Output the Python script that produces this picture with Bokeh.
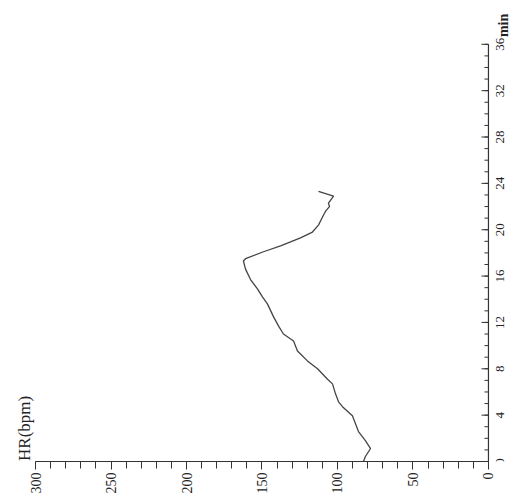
import math
from bokeh.plotting import figure
from bokeh.models import Range1d, FixedTicker
from bokeh.core.properties import value
from bokeh.embed import file_html
from bokeh.resources import INLINE

# Data (time in minutes, heart rate in bpm)
time_min = [0, 0.43, 1.12, 1.8, 2.58, 3.95, 4.73, 5.15, 5.84, 6.7, 7.1, 8.0, 8.68,
            9.54, 10.4, 11.0, 11.7, 12.5, 13.6, 14.2, 14.9, 15.7, 16.6, 17.3, 17.5,
            18.1, 18.6, 19.3, 19.8, 20.4, 21.1, 21.6, 22.0, 22.3, 22.9, 23.3]
hr_bpm = [82.8, 81.5, 78.1, 81.5, 86.1, 90.1, 96.7, 99.3, 101.3, 103.3, 106.6, 113.2, 119.9,
          126.5, 129.1, 135.8, 139.1, 142.4, 146.4, 149.7, 153.0, 157.6, 160.9, 162.3, 160.9,
          149.0, 137.7, 124.5, 116.6, 112.6, 109.9, 107.9, 105.3, 106.0, 102.6, 112.6]

hr_ticks = [0, 50, 100, 150, 200, 250, 300]
hr_minor = list(range(0, 301, 10))
time_ticks = [0, 4, 8, 12, 16, 20, 24, 28, 32, 36]
time_labels = [str(t) for t in time_ticks]
time_minor = list(range(0, 37))

hr_title = "HR(bpm)"
time_title = "min"

FONT = "Liberation Serif"
INK = "#333333"
TXT = "#222222"

p = figure(width=510, height=496,
           x_range=Range1d(323.2, -14.6), y_range=Range1d(0, 39.78),
           y_axis_location=None,
           output_backend="svg", toolbar_location=None,
           min_border_left=0, min_border_right=0,
           min_border_top=0, min_border_bottom=33)
p.grid.visible = False
p.outline_line_color = None
p.background_fill_color = "white"
p.border_fill_color = "white"

# heart-rate curve
p.line(hr_bpm, time_min, line_color="#444444", line_width=1.3)

# HR axis (bottom), ticks hanging below the line
xa = p.xaxis[0]
xa.bounds = (hr_ticks[0], hr_ticks[-1])
xa.ticker = FixedTicker(ticks=hr_ticks, minor_ticks=hr_minor)
xa.axis_line_color = INK
xa.axis_line_width = 1.2
xa.major_tick_line_color = INK
xa.minor_tick_line_color = INK
xa.major_tick_in = 0
xa.minor_tick_in = 0
xa.major_tick_out = 8
xa.minor_tick_out = 7
xa.major_label_text_font = FONT
xa.major_label_text_font_size = "14px"
xa.major_label_text_color = TXT
xa.major_label_orientation = math.pi / 2
xa.major_label_standoff = 3

# time axis (right side, at HR = 0), ticks pointing into the plot
p.segment(x0=[hr_ticks[0]], y0=[time_ticks[0]], x1=[hr_ticks[0]], y1=[time_ticks[-1]],
          line_color=INK, line_width=1.2)
p.ray(x=[hr_ticks[0]] * len(time_ticks), y=time_ticks, length=7, length_units="screen",
      angle=math.pi, line_color=INK, line_width=1)
p.ray(x=[hr_ticks[0]] * len(time_minor), y=time_minor, length=4, length_units="screen",
      angle=math.pi, line_color=INK, line_width=1)
p.text(x=[hr_ticks[0]] * len(time_ticks), y=time_ticks, text=time_labels,
       angle=math.pi / 2, x_offset=8, text_align="center", text_baseline="top",
       text_font=value(FONT), text_font_size="13px", text_color=TXT)

# axis titles
p.text(x=[hr_ticks[0]], y=[37.63], text=[time_title], angle=math.pi / 2, x_offset=8,
       text_align="center", text_baseline="top", text_font=value(FONT),
       text_font_size="14px", text_font_style="bold", text_color=TXT)
p.text(x=[hr_ticks[-1]], y=[0.05], text=[hr_title], angle=math.pi / 2,
       x_offset=-2, text_align="left", text_baseline="bottom", text_font=value(FONT),
       text_font_size="17px", text_color=TXT)

open("out.html", "w").write(file_html(p, INLINE))
